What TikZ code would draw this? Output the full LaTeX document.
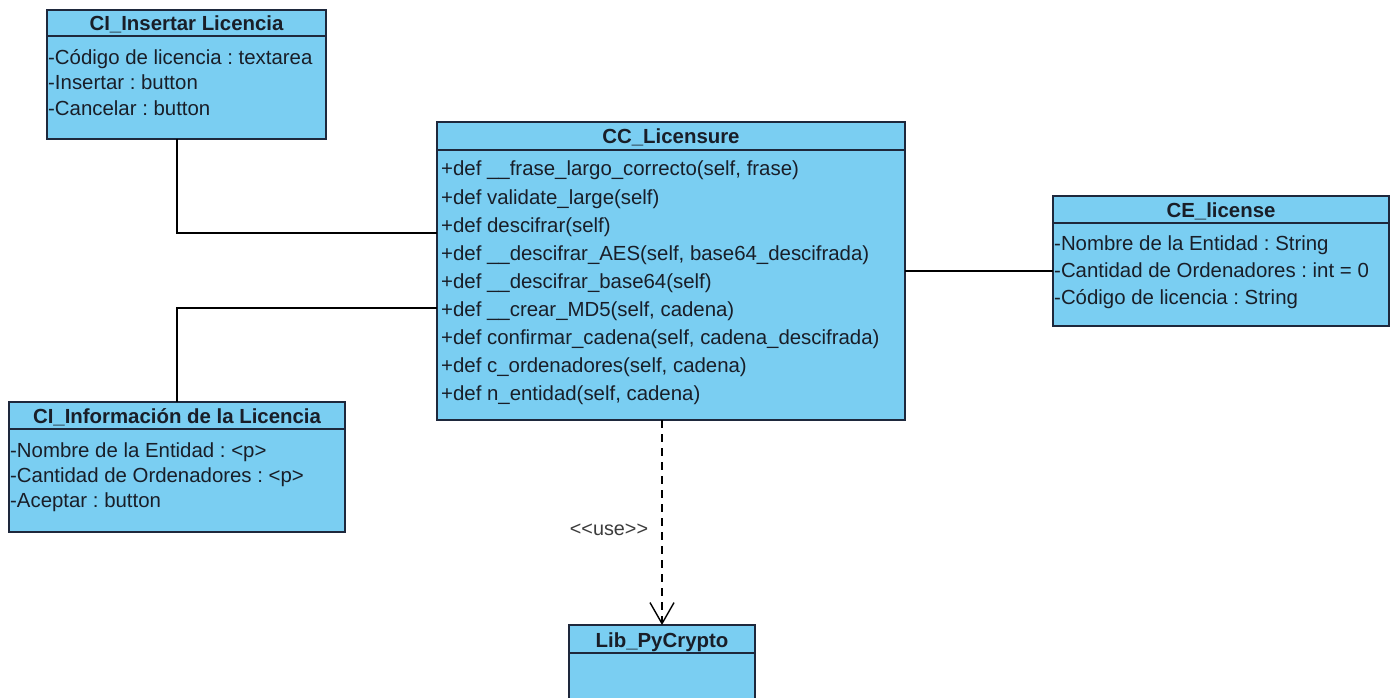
\documentclass[tikz,border=0pt]{standalone}
\usepackage{fontspec}
\setmainfont{Liberation Sans}
\usetikzlibrary{arrows.meta}

\definecolor{classfill}{RGB}{122,206,242}
\definecolor{classline}{RGB}{30,40,60}
\definecolor{classtext}{RGB}{25,30,40}
\definecolor{labeltext}{RGB}{60,60,60}

\tikzset{
  umlbox/.style={draw=classline, fill=classfill, line width=1.8pt, rectangle,
    anchor=north west, inner sep=0pt, outer sep=0pt},
  sepline/.style={draw=classline, line width=1.6pt},
  classtitle/.style={font=\fontsize{20.4}{24}\selectfont\bfseries, text=classtext,
    inner sep=0pt, text height=14.6pt, text depth=0pt},
  member/.style={font=\fontsize{20.4}{24}\selectfont, text=classtext, anchor=west,
    inner sep=0pt, text height=14.6pt, text depth=0pt},
  stereo/.style={font=\fontsize{19.8}{24}\selectfont, text=labeltext,
    inner sep=0pt, text height=14.6pt, text depth=0pt},
  assoc/.style={draw=black, line width=1.4pt},
  usedep/.style={draw=black, line width=1.4pt, dash pattern=on 8pt off 6pt,
    -{Straight Barb[length=21pt,width=24pt,line width=1.4pt]}},
}

\begin{document}
\frenchspacing
\begin{tikzpicture}[x=1pt,y=-1pt]
\useasboundingbox (0,0) rectangle (1395,698);
\clip (0,0) rectangle (1395,698);
\fill[white] (0,0) rectangle (1395,698);

% ---- class boxes ----
\node[umlbox, minimum width=279pt, minimum height=129pt] (ins) at (47,10) {};
\node[umlbox, minimum width=468pt, minimum height=298pt] (cc) at (437,122) {};
\node[umlbox, minimum width=336pt, minimum height=130pt] (info) at (9,402) {};
\node[umlbox, minimum width=336pt, minimum height=130pt] (ce) at (1053,196) {};
\node[umlbox, minimum width=186pt, minimum height=120pt] (lib) at (569,625) {};

% ---- header separators ----
\draw[sepline] ([yshift=-26pt]ins.north west) -- ([yshift=-26pt]ins.north east);
\draw[sepline] ([yshift=-28pt]cc.north west) -- ([yshift=-28pt]cc.north east);
\draw[sepline] ([yshift=-27pt]info.north west) -- ([yshift=-27pt]info.north east);
\draw[sepline] ([yshift=-27pt]ce.north west) -- ([yshift=-27pt]ce.north east);
\draw[sepline] ([yshift=-28pt]lib.north west) -- ([yshift=-28pt]lib.north east);

% ---- class names ----
\node[classtitle] (ins-name) at ([yshift=-13.5pt]ins.north) {CI\_Insertar Licencia};
\node[classtitle] (cc-name) at ([yshift=-14.5pt]cc.north) {CC\_Licensure};
\node[classtitle] (info-name) at ([yshift=-14.5pt]info.north) {CI\_Información de la Licencia};
\node[classtitle] (ce-name) at ([yshift=-14.5pt]ce.north) {CE\_license};
\node[classtitle] (lib-name) at ([yshift=-15pt]lib.north) {Lib\_PyCrypto};

% ---- CI_Insertar Licencia attributes ----
\node[member] (ins-a1) at (48,57) {-Código de licencia : textarea};
\node[member] (ins-a2) at (48,82) {-Insertar : button};
\node[member] (ins-a3) at (48,108) {-Cancelar : button};

% ---- CC_Licensure operations ----
\node[member] (cc-o1) at (441,168) {+def \_\_frase\_largo\_correcto(self, frase)};
\node[member] (cc-o2) at (441,197) {+def validate\_large(self)};
\node[member] (cc-o3) at (441,225) {+def descifrar(self)};
\node[member] (cc-o4) at (441,253) {+def \_\_descifrar\_AES(self, base64\_descifrada)};
\node[member] (cc-o5) at (441,281) {+def \_\_descifrar\_base64(self)};
\node[member] (cc-o6) at (441,309) {+def \_\_crear\_MD5(self, cadena)};
\node[member] (cc-o7) at (441,337) {+def confirmar\_cadena(self, cadena\_descifrada)};
\node[member] (cc-o8) at (441,365) {+def c\_ordenadores(self, cadena)};
\node[member] (cc-o9) at (441,393) {+def n\_entidad(self, cadena)};

% ---- CI_Información de la Licencia attributes ----
\node[member] (info-a1) at (10,450) {-Nombre de la Entidad : <p>};
\node[member] (info-a2) at (10,475) {-Cantidad de Ordenadores : <p>};
\node[member] (info-a3) at (10,500) {-Aceptar : button};

% ---- CE_license attributes ----
\node[member] (ce-a1) at (1054,243) {-Nombre de la Entidad : String};
\node[member] (ce-a2) at (1054,270) {-Cantidad de Ordenadores : int = 0};
\node[member] (ce-a3) at (1054,297) {-Código de licencia : String};

% ---- associations ----
\draw[assoc] ([xshift=-9.5pt]ins.south) |- ([yshift=38pt]cc.west);
\draw[assoc] (info.north) |- ([yshift=-37pt]cc.west);
\draw[assoc] (cc.east) -- (cc.east -| ce.west);

% ---- dependency ----
\draw[usedep] (lib.north |- cc.south) -- (lib.north);
\node[stereo] (use-lbl) at (609,528) {<{}<use>{}>};
\end{tikzpicture}
\end{document}
